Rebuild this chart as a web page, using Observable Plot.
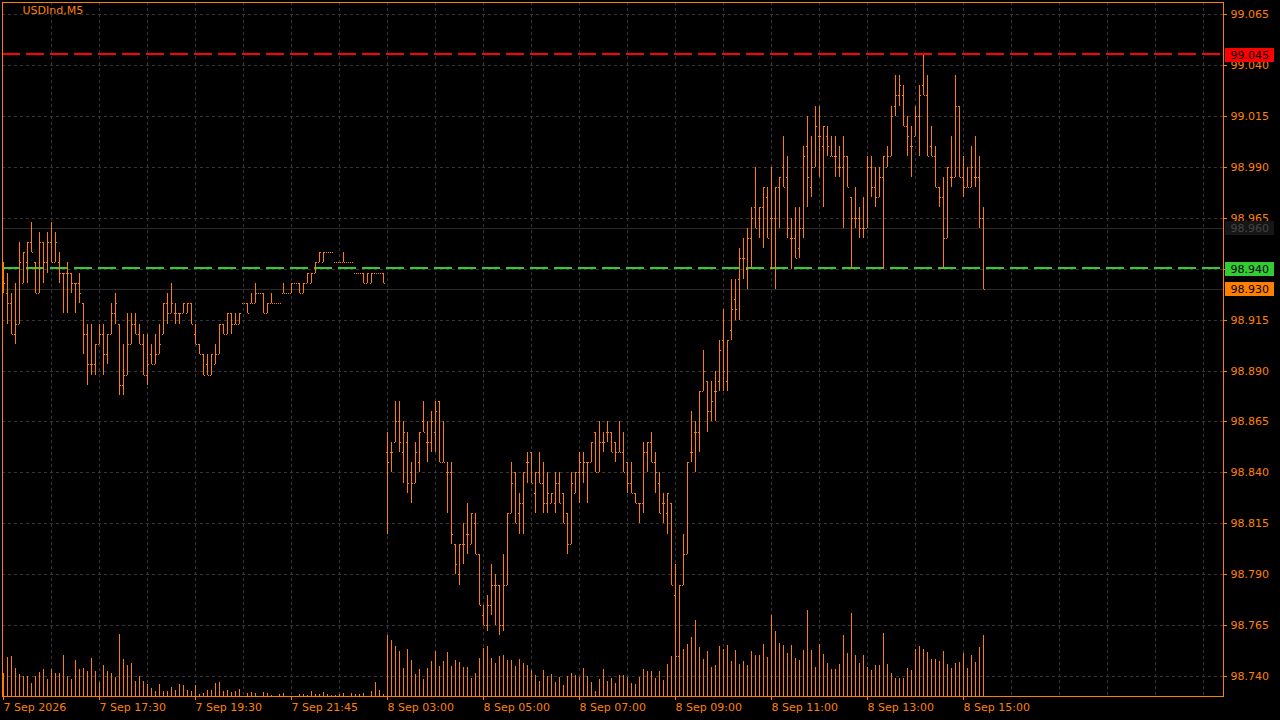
<!DOCTYPE html>
<html>
<head>
<meta charset="utf-8">
<script src="https://cdn.jsdelivr.net/npm/d3@7"></script>
<script src="https://cdn.jsdelivr.net/npm/@observablehq/plot@0.6"></script>
<style>
html, body { margin: 0; padding: 0; background: #000; width: 1280px; height: 720px; overflow: hidden; }
#wrap { position: relative; width: 1280px; height: 720px; }
#wrap svg { position: absolute; left: 0; top: 0; }
</style>
</head>
<body>
<div id="wrap"></div>
<script>
const symbol = "USDInd,M5";

const opens = [
98.938,98.928,98.923,98.908,98.913,98.933,98.943,98.953,98.943,98.928,
98.953,98.943,98.953,98.943,98.943,98.938,98.938,98.938,98.933,98.933,
98.923,98.908,98.893,98.893,98.903,98.908,98.898,98.908,98.918,98.913,
98.883,98.888,98.903,98.913,98.908,98.903,98.888,98.898,98.893,98.898,
98.908,98.923,98.918,98.918,98.918,98.918,98.918,98.923,98.908,98.903,
98.898,98.893,98.888,98.893,98.898,98.913,98.908,98.918,98.913,98.913,
98.923,98.923,98.923,98.923,98.928,98.928,98.918,98.923,98.923,98.923,
98.928,98.928,98.928,98.933,98.933,98.928,98.933,98.933,98.938,98.943,
98.943,98.948,98.948,98.943,98.943,98.943,98.943,98.943,98.938,98.938,
98.938,98.933,98.933,98.938,98.938,98.938,
98.850,98.850,98.855,98.865,
98.850,98.855,98.840,98.835,98.845,98.865,98.855,98.855,98.860,98.875,
98.845,98.840,98.840,98.805,98.790,98.805,98.810,98.805,98.815,98.800,
98.770,98.765,98.775,98.785,98.785,98.765,98.785,98.820,98.840,98.820,
98.825,98.845,98.850,98.830,98.840,98.835,98.825,98.825,98.825,98.835,
98.830,98.820,98.805,98.830,98.840,98.840,98.845,98.845,98.860,98.840,
98.855,98.860,98.860,98.855,98.850,98.850,98.845,98.835,98.830,98.825,
98.825,98.850,98.855,98.845,98.835,98.825,98.820,98.825,98.780,98.750,
98.785,98.800,98.850,98.860,98.860,98.880,98.885,98.870,98.880,98.885,
98.905,98.885,98.910,98.925,98.935,98.945,98.940,98.955,98.970,98.965,
98.970,98.975,98.965,98.965,98.980,98.990,98.985,98.955,98.955,98.950,
98.960,99.000,98.980,98.990,99.005,99.000,99.005,98.995,98.995,98.990,
98.990,98.995,98.975,98.965,98.965,98.960,98.960,98.990,98.980,98.975,
98.985,98.990,98.995,99.020,99.025,99.025,99.010,99.000,99.005,99.015,
99.030,99.025,99.000,98.995,98.980,98.975,98.955,98.985,98.985,99.020,
98.985,98.980,98.980,98.985,98.985,98.965
];

const highs = [
98.943,98.938,98.928,98.933,98.953,98.948,98.953,98.963,98.943,98.958,
98.953,98.958,98.963,98.958,98.948,98.938,98.943,98.938,98.933,98.938,
98.923,98.913,98.913,98.903,98.913,98.913,98.908,98.923,98.928,98.913,
98.903,98.918,98.918,98.918,98.913,98.908,98.908,98.903,98.908,98.913,
98.923,98.928,98.933,98.923,98.918,98.923,98.923,98.923,98.913,98.903,
98.898,98.898,98.898,98.903,98.913,98.913,98.918,98.918,98.918,98.918,
98.923,98.923,98.928,98.933,98.928,98.928,98.923,98.928,98.923,98.923,
98.933,98.928,98.933,98.933,98.933,98.933,98.938,98.938,98.943,98.948,
98.948,98.948,98.948,98.943,98.943,98.948,98.943,98.943,98.938,98.938,
98.938,98.938,98.938,98.938,98.938,98.938,
98.860,98.855,98.875,98.875,
98.865,98.860,98.845,98.855,98.860,98.875,98.865,98.870,98.875,98.875,
98.865,98.845,98.845,98.805,98.805,98.815,98.825,98.820,98.820,98.800,
98.775,98.780,98.795,98.790,98.785,98.800,98.820,98.845,98.840,98.830,
98.840,98.850,98.850,98.840,98.850,98.845,98.840,98.830,98.840,98.840,
98.830,98.820,98.840,98.840,98.850,98.850,98.845,98.855,98.860,98.865,
98.860,98.865,98.860,98.855,98.865,98.860,98.845,98.845,98.830,98.825,
98.855,98.855,98.860,98.850,98.840,98.830,98.830,98.825,98.795,98.785,
98.810,98.845,98.870,98.865,98.880,98.900,98.885,98.885,98.890,98.905,
98.920,98.905,98.935,98.935,98.950,98.955,98.960,98.970,98.990,98.970,
98.980,98.980,98.990,98.980,98.985,99.005,98.995,98.965,98.970,98.970,
99.000,99.015,99.005,99.020,99.020,99.010,99.010,99.005,99.005,99.000,
99.005,98.995,98.975,98.980,98.970,98.975,98.995,98.995,98.990,98.990,
98.995,99.000,99.020,99.035,99.035,99.030,99.015,99.010,99.020,99.030,
99.045,99.035,99.010,99.000,98.980,98.985,98.990,99.005,99.035,99.020,
98.995,98.990,99.000,99.005,98.995,98.970
];

const lows = [
98.928,98.913,98.908,98.903,98.913,98.933,98.933,98.948,98.928,98.928,
98.933,98.938,98.943,98.943,98.933,98.918,98.918,98.928,98.918,98.923,
98.898,98.883,98.888,98.888,98.903,98.888,98.893,98.908,98.913,98.878,
98.878,98.888,98.903,98.908,98.903,98.888,98.883,98.893,98.893,98.898,
98.908,98.913,98.918,98.913,98.913,98.918,98.918,98.913,98.903,98.898,
98.888,98.888,98.888,98.893,98.898,98.908,98.908,98.908,98.913,98.913,
98.923,98.918,98.923,98.923,98.928,98.918,98.918,98.923,98.923,98.923,
98.928,98.928,98.928,98.933,98.928,98.928,98.933,98.933,98.938,98.943,
98.943,98.948,98.948,98.943,98.943,98.943,98.943,98.943,98.938,98.938,
98.933,98.933,98.933,98.938,98.938,98.933,
98.810,98.840,98.855,98.850,
98.835,98.830,98.825,98.835,98.840,98.860,98.845,98.850,98.850,98.845,
98.845,98.820,98.805,98.790,98.785,98.795,98.800,98.805,98.800,98.775,
98.765,98.762,98.770,98.765,98.760,98.762,98.785,98.820,98.815,98.810,
98.810,98.835,98.835,98.820,98.835,98.820,98.820,98.825,98.820,98.825,
98.815,98.800,98.805,98.830,98.825,98.835,98.825,98.845,98.840,98.840,
98.850,98.855,98.850,98.845,98.850,98.840,98.830,98.830,98.825,98.815,
98.820,98.840,98.845,98.830,98.820,98.815,98.810,98.785,98.745,98.745,
98.785,98.800,98.845,98.840,98.850,98.880,98.860,98.865,98.865,98.880,
98.880,98.880,98.905,98.915,98.915,98.935,98.930,98.940,98.960,98.955,
98.950,98.955,98.940,98.930,98.960,98.980,98.955,98.940,98.945,98.945,
98.955,98.970,98.975,98.990,98.985,98.970,98.995,98.995,98.985,98.985,
98.960,98.980,98.940,98.960,98.955,98.955,98.960,98.975,98.970,98.975,
98.940,98.990,98.995,99.015,99.020,99.010,98.995,98.985,99.005,98.995,
99.025,98.995,98.995,98.980,98.970,98.940,98.955,98.980,98.985,98.985,
98.975,98.980,98.980,98.980,98.960,98.930
];

const closes = [
98.933,98.923,98.908,98.913,98.943,98.948,98.953,98.948,98.928,98.953,
98.943,98.953,98.943,98.953,98.938,98.938,98.938,98.933,98.933,98.928,
98.908,98.893,98.893,98.903,98.908,98.898,98.908,98.918,98.923,98.883,
98.888,98.903,98.913,98.908,98.903,98.888,98.893,98.893,98.898,98.903,
98.923,98.918,98.923,98.918,98.918,98.923,98.923,98.913,98.903,98.898,
98.888,98.888,98.898,98.898,98.913,98.908,98.918,98.913,98.913,98.918,
98.923,98.918,98.923,98.928,98.928,98.918,98.923,98.923,98.923,98.923,
98.928,98.928,98.933,98.933,98.928,98.933,98.938,98.938,98.943,98.948,
98.948,98.948,98.948,98.943,98.943,98.943,98.943,98.943,98.938,98.938,
98.933,98.938,98.938,98.938,98.938,98.933,
98.845,98.850,98.865,98.855,
98.860,98.835,98.835,98.850,98.860,98.860,98.855,98.865,98.870,98.845,
98.845,98.840,98.810,98.795,98.805,98.805,98.810,98.820,98.800,98.775,
98.765,98.775,98.785,98.785,98.765,98.785,98.820,98.835,98.815,98.825,
98.840,98.845,98.835,98.840,98.835,98.825,98.830,98.830,98.835,98.825,
98.815,98.805,98.835,98.840,98.845,98.845,98.845,98.855,98.840,98.855,
98.855,98.860,98.850,98.850,98.850,98.840,98.835,98.830,98.825,98.825,
98.850,98.855,98.845,98.840,98.820,98.825,98.830,98.785,98.750,98.785,
98.800,98.845,98.850,98.860,98.880,98.890,98.870,98.875,98.880,98.900,
98.890,98.905,98.920,98.920,98.945,98.945,98.955,98.965,98.960,98.970,
98.980,98.955,98.965,98.980,98.985,98.980,98.960,98.955,98.945,98.960,
98.995,98.985,98.990,99.010,99.005,99.010,99.000,98.995,98.995,98.990,
98.995,98.980,98.965,98.965,98.960,98.960,98.990,98.980,98.975,98.985,
98.995,98.995,99.015,99.025,99.030,99.010,99.005,99.000,99.015,99.025,
99.025,98.995,98.995,98.980,98.975,98.955,98.990,98.985,99.020,98.985,
98.980,98.980,98.990,98.985,98.965,98.930
];

const volumes = [
23,39,40,28,22,20,20,13,20,24,
27,17,27,23,23,41,20,17,36,27,
28,25,38,25,14,31,25,23,19,62,
37,31,33,15,20,15,12,8,5,12,
5,5,9,6,12,11,6,5,11,2,
3,6,6,13,14,5,6,4,5,7,
0,3,4,3,0,4,3,1,0,2,
3,0,0,0,2,2,1,5,2,2,
4,2,1,1,2,3,0,3,2,2,
3,0,5,14,6,2,
61,56,50,45,
28,47,36,22,27,17,28,35,45,30,
35,44,30,36,34,29,29,18,23,38,
48,50,38,33,40,41,36,36,30,37,
33,31,26,21,15,26,20,22,14,19,
11,20,23,21,19,28,20,14,5,17,
27,15,18,13,21,21,19,13,12,19,
27,25,25,18,25,16,32,40,50,55,
47,52,59,76,49,37,45,29,31,50,
47,51,35,46,32,35,31,45,41,41,
52,39,81,65,53,51,43,51,38,36,
46,86,46,29,52,42,33,27,27,32,
61,43,83,41,33,41,29,26,31,31,
63,32,23,18,18,18,28,26,47,50,
47,44,37,37,35,45,32,28,33,34,
43,28,41,34,49,61
];

const timeLabels = ["7 Sep 2026","7 Sep 17:30","7 Sep 19:30","7 Sep 21:45","8 Sep 03:00","8 Sep 05:00","8 Sep 07:00","8 Sep 09:00","8 Sep 11:00","8 Sep 13:00","8 Sep 15:00"];
const timeSlots = [0,24,48,72,96,120,144,168,192,216,240];
const priceTicks = [98.740,98.765,98.790,98.815,98.840,98.865,98.890,98.915,98.940,98.965,98.990,99.015,99.040,99.065];

const dashedLevels = [99.045, 98.940];
const dashedColors = ["#ff0000", "#32cd32"];
const solidLevels = [98.960, 98.930];

const tagPrices = [98.960, 99.045, 98.940, 98.930];
const tagFills = ["#161616", "#ff0000", "#32cd32", "#ff8000"];
const tagText = ["#444444", "#000000", "#000000", "#000000"];

const ORANGE = "#ff8000";
const GRID = "#353535";
const LAST_SLOT = 305;

// align 1px strokes to the CSS pixel grid whatever the device pixel ratio
const PX = (window.devicePixelRatio || 1) > 1 ? 0.5 : 0;

const bars = opens.map((o, i) => ({i, open: o, high: highs[i], low: lows[i], close: closes[i], vol: volumes[i]}));
const gridSlots = d3.range(12, LAST_SLOT, 12);

const layout = {width: 1280, height: 720, marginLeft: 2, marginRight: 57, marginTop: 2, marginBottom: 24};

const dashedMarks = dashedLevels.map((p, k) =>
  Plot.ruleY([p], {stroke: dashedColors[k], strokeWidth: 2, strokeDasharray: "18,6", dx: PX, dy: PX - 1.5}));
const tagBoxMarks = tagPrices.map((p, k) =>
  Plot.ruleY([p], {x1: () => LAST_SLOT + 0.5, x2: () => LAST_SLOT + 12.75, stroke: tagFills[k], strokeWidth: 14, dy: PX - 0.5}));
const tagTextMarks = tagPrices.map((p, k) =>
  Plot.text([p], {x: () => LAST_SLOT, y: d => d, text: d => d.toFixed(3), fill: tagText[k], textAnchor: "start", dx: 7, dy: -0.5}));

const priceChart = Plot.plot({
  ...layout,
  style: {background: "#000", color: ORANGE, fontFamily: "DejaVu Sans", fontSize: "11px", overflow: "visible"},
  x: {domain: [-0.25, LAST_SLOT], round: true},
  y: {domain: [98.7303, 99.0708], round: true},
  marks: [
    Plot.gridY(priceTicks, {stroke: GRID, strokeOpacity: 1, strokeDasharray: "3,3", dx: PX, dy: PX}),
    Plot.gridX(gridSlots, {stroke: GRID, strokeOpacity: 1, strokeDasharray: "3,3", dx: PX, dy: PX}),
    Plot.ruleY(solidLevels, {stroke: "#2b2b2b", dx: PX, dy: PX}),
    ...dashedMarks,
    Plot.ruleX(bars, {x: "i", y1: "low", y2: "high", stroke: ORANGE, dx: PX, dy: PX}),
    Plot.link(bars, {x1: d => d.i - 0.25, x2: "i", y1: "open", y2: "open", stroke: ORANGE, dx: PX - 0.5, dy: PX}),
    Plot.link(bars, {x1: d => d.i + 0.25, x2: d => d.i + 0.5, y1: "close", y2: "close", stroke: ORANGE, dx: PX - 0.5, dy: PX}),
    Plot.axisY(priceTicks, {anchor: "right", tickSize: 3, tickPadding: 4, tickFormat: d => d.toFixed(3), label: null}),
    Plot.axisX(timeSlots, {anchor: "bottom", tickSize: 4, tickPadding: 3, tickFormat: d => timeLabels[timeSlots.indexOf(d)], textAnchor: "start", label: null}),
    ...tagBoxMarks,
    ...tagTextMarks,
    Plot.text([symbol], {frameAnchor: "top-left", dx: 20, dy: 4, lineAnchor: "top", fill: ORANGE}),
    Plot.frame({stroke: ORANGE, dx: PX, dy: PX})
  ]
});

const volumeChart = Plot.plot({
  ...layout,
  style: {background: "transparent", overflow: "visible"},
  x: {domain: [-0.25, LAST_SLOT], round: true, axis: null},
  y: {domain: [0, 694], axis: null},
  marks: [
    Plot.ruleX(bars, {x: "i", y1: () => 0, y2: "vol", stroke: ORANGE, dx: PX, dy: PX})
  ]
});

const wrap = document.getElementById("wrap");
wrap.appendChild(priceChart);
wrap.appendChild(volumeChart);
</script>
</body>
</html>
